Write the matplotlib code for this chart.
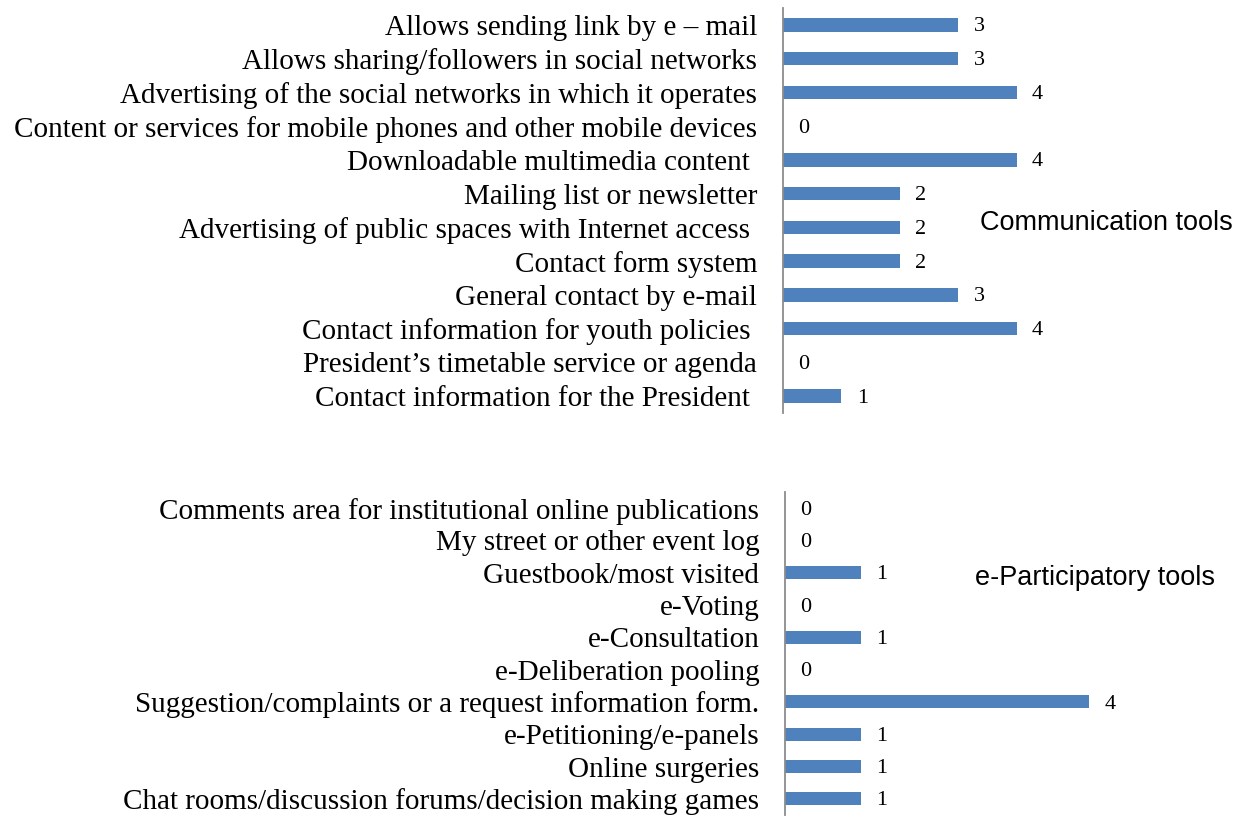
import matplotlib
matplotlib.use("Agg")
import matplotlib.pyplot as plt

comm_labels = [
    "Allows sending link by e \u2013 mail",
    "Allows sharing/followers in social networks",
    "Advertising of the social networks in which it operates",
    "Content or services for mobile phones and other mobile devices",
    "Downloadable multimedia content ",
    "Mailing list or newsletter",
    "Advertising of public spaces with Internet access ",
    "Contact form system",
    "General contact by e-mail",
    "Contact information for youth policies ",
    "President\u2019s timetable service or agenda",
    "Contact information for the President ",
]
comm_values = [3, 3, 4, 0, 4, 2, 2, 2, 3, 4, 0, 1]

part_labels = [
    "Comments area for institutional online publications",
    "My street or other event log",
    "Guestbook/most visited",
    "e-Voting",
    "e-Consultation",
    "e-Deliberation pooling",
    "Suggestion/complaints or a request information form.",
    "e-Petitioning/e-panels",
    "Online surgeries",
    "Chat rooms/discussion forums/decision making games",
]
part_values = [0, 0, 1, 0, 1, 0, 4, 1, 1, 1]

panel_titles = ["Communication tools", "e-Participatory tools"]

W, H = 1248, 816
fig = plt.figure(figsize=(W / 100, H / 100), dpi=100)

BAR_COLOR = "#4F81BD"
AXIS_COLOR = "#8C8C8C"
SERIF = ["Liberation Serif", "DejaVu Serif"]
SANS = ["Liberation Sans", "DejaVu Sans"]


def panel(rect, labels, values, xmax):
    ax = fig.add_axes(rect)
    y = list(range(len(labels)))
    ax.barh(y, values, height=0.4, color=BAR_COLOR)
    ax.set_ylim(len(labels) - 0.5, -0.5)
    ax.set_xlim(0, xmax)
    ax.set_yticks(y)
    ax.set_yticklabels(labels, fontsize=21, family=SERIF)
    ax.tick_params(axis="y", length=0, pad=18.5)
    ax.xaxis.set_visible(False)
    for s in ["top", "right", "bottom"]:
        ax.spines[s].set_visible(False)
    ax.spines["left"].set_color(AXIS_COLOR)
    ax.spines["left"].set_linewidth(1.3)
    for yi, v in zip(y, values):
        ax.annotate(str(v), (v, yi), xytext=(15, -1.5), textcoords="offset points",
                    ha="center", va="center", fontsize=16, family=SERIF)
    return ax


# top panel: axis at x=783, y from 8 to 413 px
x0 = 783
ax1 = panel([x0 / W, 1 - 413 / H, (1100 - x0) / W, 405 / H],
            comm_labels, comm_values, (1100 - x0) / 58.4)
# bottom panel: axis at x=785, y from 492 to 815 px
x1 = 785
ax2 = panel([x1 / W, 1 - 815 / H, (1150 - x1) / W, 323 / H],
            part_labels, part_values, (1150 - x1) / 76.1)

fig.text(980 / W, 1 - 223 / H, panel_titles[0], ha="left", va="center",
         fontsize=19.5, family=SANS)
fig.text(975 / W, 1 - 578 / H, panel_titles[1], ha="left", va="center",
         fontsize=19.5, family=SANS)

fig.savefig("out.png", dpi=100, facecolor="white")
